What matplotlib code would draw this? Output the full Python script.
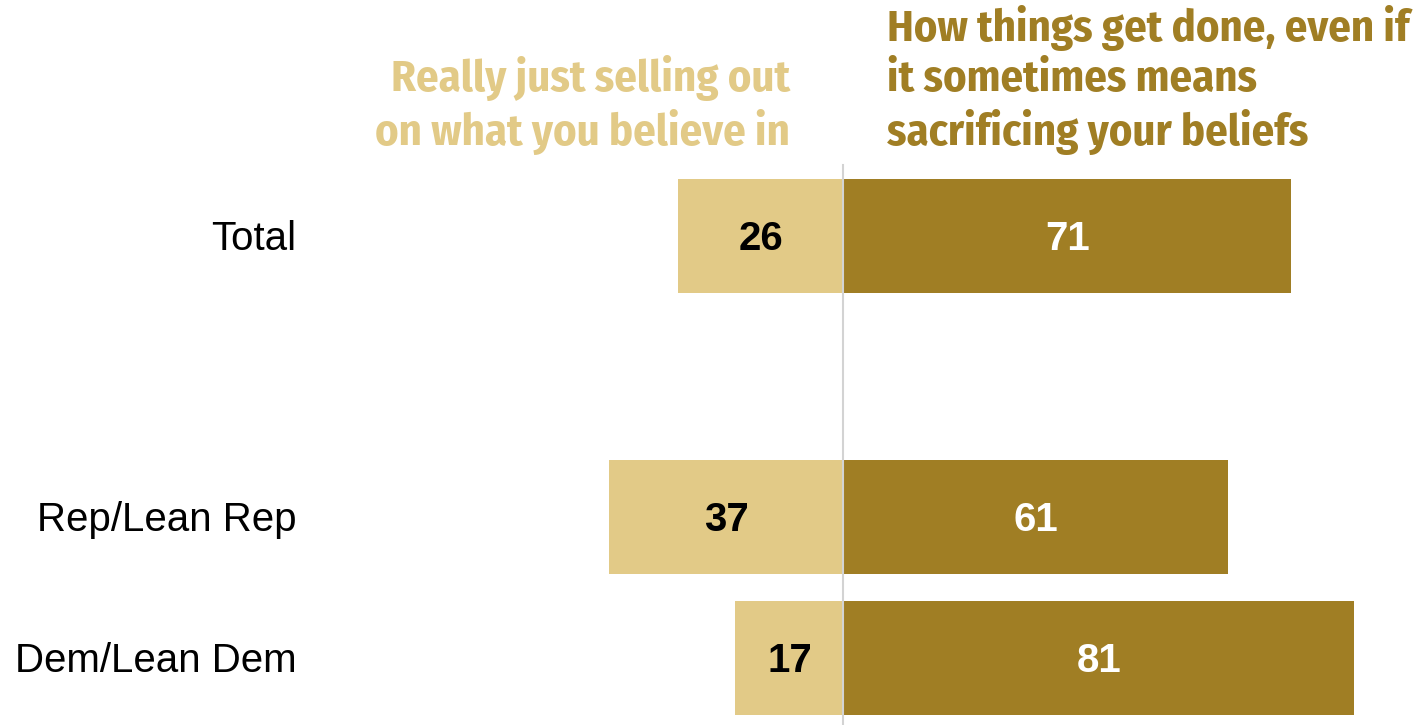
import matplotlib.pyplot as plt

# data
groups = ["Total", "Rep/Lean Rep", "Dem/Lean Dem"]
ypos = [0, 2, 3]
selling_out = [26, 37, 17]
get_done = [71, 61, 81]

light = "#E2CA87"
dark = "#A07E24"
head_font = ["Fira Sans Condensed", "DejaVu Sans"]
body_font = ["Liberation Sans", "DejaVu Sans"]

fig = plt.figure(figsize=(14.2, 7.25), dpi=100)
ax = fig.add_axes([0, 0, 1, 1])

# left bars (negative) and right bars
ax.barh(ypos, [-v for v in selling_out], height=0.81, color=light, left=-0.15)
ax.barh(ypos, get_done, height=0.81, color=dark, left=0.15)

for y, v in zip(ypos, selling_out):
    ax.text(-v / 2, y + 0.02, str(v), ha="center", va="center", fontsize=29,
            fontweight="bold", color="black", family=body_font)
for y, v in zip(ypos, get_done):
    ax.text(0.15 + v / 2, y + 0.02, str(v), ha="center", va="center", fontsize=29,
            fontweight="bold", color="white", family=body_font)

for y, g in zip(ypos, groups):
    ax.text(-86.7, y + 0.02, g, ha="right", va="center", fontsize=29, color="black",
            family=body_font)

# centre line
ax.plot([0, 0], [-0.505, 3.6], color="#D3D3D3", lw=1.5, zorder=3)

ax.set_xlim(-133.8, 91.6)
ax.set_ylim(3.475, -1.677)
ax.axis("off")

fig.text(790 / 1420, 1 - 145 / 725, "Really just selling out\non what you believe in",
         ha="right", va="baseline", fontsize=32, fontweight="bold", color=light,
         family=head_font, linespacing=1.22, multialignment="right")
fig.text(887 / 1420, 1 - 145 / 725,
         "How things get done, even if\nit sometimes means\nsacrificing your beliefs",
         ha="left", va="baseline", fontsize=32, fontweight="bold", color=dark,
         family=head_font, linespacing=1.22)

fig.savefig("out.png", dpi=100)
